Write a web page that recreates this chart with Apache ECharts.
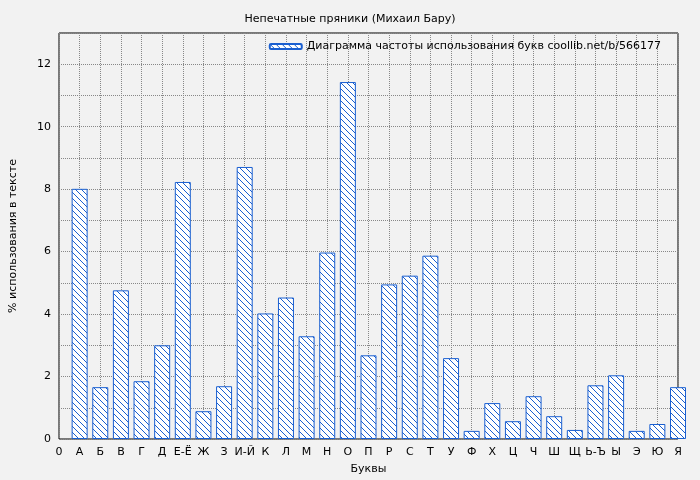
<!DOCTYPE html>
<html><head><meta charset="utf-8">
<script src="https://cdn.jsdelivr.net/npm/echarts@6/dist/echarts.min.js"></script>
<style>html,body{margin:0;background:#f2f2f2}#main{width:700px;height:480px}</style>
</head><body><div id="main"></div>
<script>
/*подписи оси X*/
var letters = ['0','А','Б','В','Г','Д','Е-Ё','Ж','З','И-Й','К','Л','М','Н','О','П','Р','С','Т','У','Ф','Х','Ц','Ч','Ш','Щ','Ь-Ъ','Ы','Э','Ю','Я'];
/*частоты букв, %*/
var freqs = [8.01,1.66,4.76,1.85,3.0,8.23,0.89,1.69,8.71,4.02,4.53,3.29,5.97,11.43,2.68,4.95,5.23,5.87,2.59,0.26,1.15,0.57,1.37,0.73,0.29,1.72,2.04,0.26,0.48,1.66];

/*штриховка*/
var hatch = document.createElement('canvas');
hatch.width = 6; hatch.height = 6;
var ctx = hatch.getContext('2d');
ctx.fillStyle = '#ffffff';
ctx.fillRect(0, 0, 6, 6);
ctx.strokeStyle = '#1a5fd0';
ctx.lineWidth = 1;
ctx.beginPath();
ctx.moveTo(-1, -1); ctx.lineTo(7, 7);
ctx.moveTo(-4, 2); ctx.lineTo(4, 10);
ctx.moveTo(2, -4); ctx.lineTo(10, 4);
ctx.stroke();

var data = freqs.map(function (v, i) { return [i + 1, v]; });
var font = 'DejaVu Sans';
var chart = echarts.init(document.getElementById('main'));
chart.setOption({
    backgroundColor: '#f2f2f2',
    textStyle: {fontFamily: font},
    title: {text: 'Непечатные пряники (Михаил Бару)', left: 'center', top: 9,
        textStyle: {fontSize: 11, fontWeight: 'normal', color: '#000', fontFamily: font}},
    legend: {right: 34, top: 36, itemWidth: 32, itemHeight: 5, itemGap: 6,
        textStyle: {fontSize: 11, color: '#000', fontFamily: font},
        data: ['Диаграмма частоты использования букв coollib.net/b/566177']},
    grid: {left: 53, right: 22, top: 33, bottom: 40, show: true, borderColor: '#000', borderWidth: 1, backgroundColor: '#f2f2f2'},
    xAxis: {type: 'value', min: 0, max: 30, interval: 1,
        name: 'Буквы', nameLocation: 'middle', nameGap: 25, nameTextStyle: {fontSize: 11, color: '#000'},
        axisLine: {show: false}, axisTick: {show: false},
        axisLabel: {fontSize: 11, color: '#000', formatter: function (v) { return letters[v] || ''; }},
        splitLine: {lineStyle: {type: 'dotted', color: '#888'}}},
    yAxis: {type: 'value', min: 0, max: 13, interval: 1,
        name: '% использования в тексте', nameLocation: 'middle', nameGap: 40, nameTextStyle: {fontSize: 11, color: '#000'},
        axisLine: {show: false}, axisTick: {show: false},
        axisLabel: {fontSize: 11, color: '#000', formatter: function (v) { return v % 2 || v > 12 ? '' : v; }},
        splitLine: {lineStyle: {type: 'dotted', color: '#888'}, interval: function (i, v) { return true; }}},
    series: [{
        name: 'Диаграмма частоты использования букв coollib.net/b/566177',
        type: 'bar', data: data, barWidth: 16, clip: true,
        itemStyle: {color: {image: hatch, repeat: 'repeat'}, borderColor: '#1a5fd0', borderWidth: 1}
    }]
});
</script></body></html>
